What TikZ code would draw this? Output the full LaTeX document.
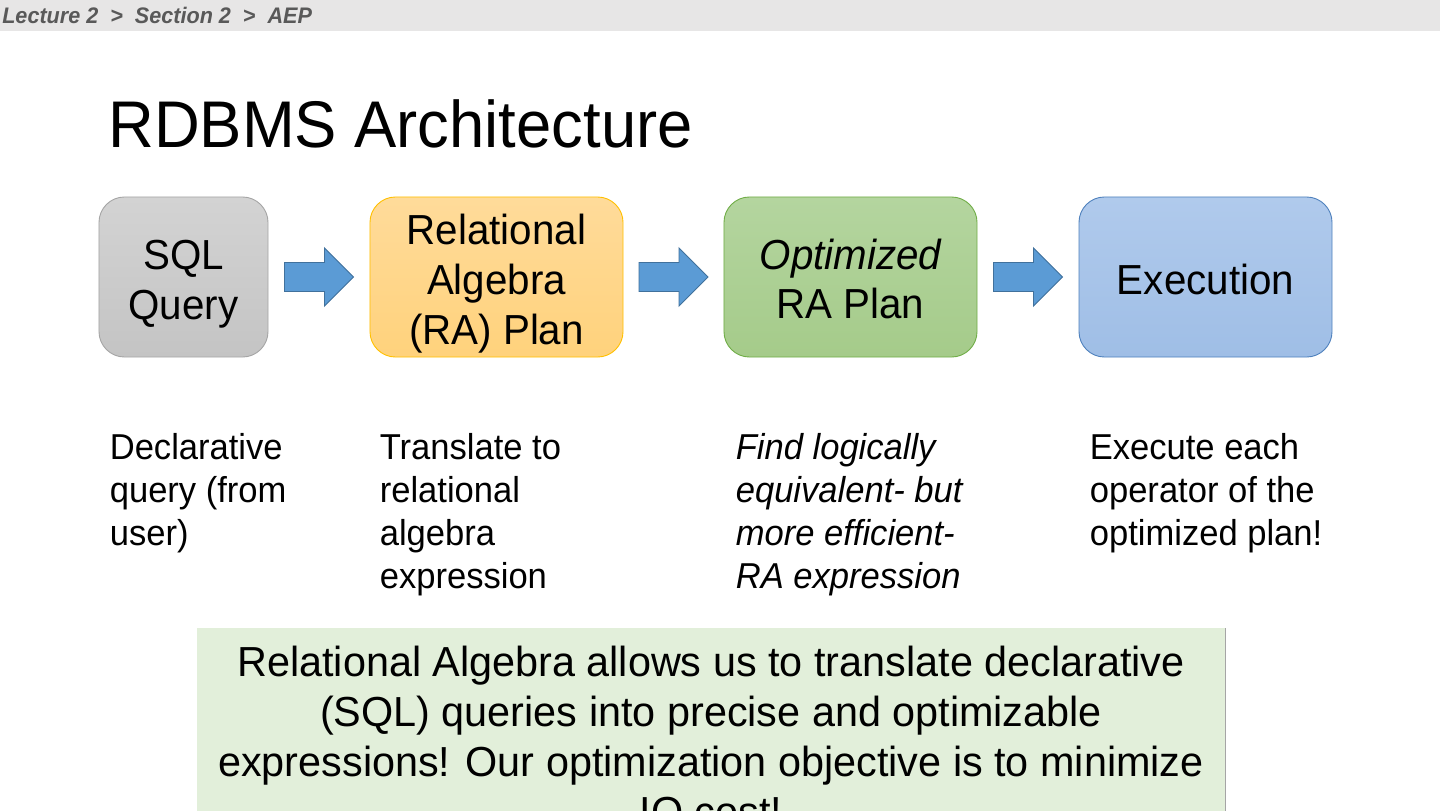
\documentclass[tikz,border=0pt]{standalone}
\usepackage{fontspec}
\setmainfont[FakeStretch=0.96]{Liberation Sans}
\newfontfamily\notefont[FakeStretch=0.985]{Liberation Sans}
\usetikzlibrary{calc}
\definecolor{crumbbar}{HTML}{E7E6E6}
\definecolor{crumbtext}{HTML}{595959}
\definecolor{sqltop}{HTML}{D3D3D3}
\definecolor{sqlbot}{HTML}{C4C4C4}
\definecolor{sqledge}{HTML}{A5A5A5}
\definecolor{ratop}{HTML}{FFDB9A}
\definecolor{rabot}{HTML}{FFD27C}
\definecolor{raedge}{HTML}{FFC000}
\definecolor{opttop}{HTML}{B4D59F}
\definecolor{optbot}{HTML}{A5CB8A}
\definecolor{optedge}{HTML}{70AD47}
\definecolor{exectop}{HTML}{B0CAEC}
\definecolor{execbot}{HTML}{9FBEE6}
\definecolor{execedge}{HTML}{4F81BD}
\definecolor{arrowblue}{HTML}{5B9BD5}
\definecolor{arrowedge}{HTML}{41719C}
\definecolor{notefill}{HTML}{E2EFDA}
\definecolor{noteedge}{HTML}{A5A5A5}

\tikzset{
  stagebox/.style={rounded corners=17pt, line width=0.6pt, minimum height=106.7pt, inner sep=0pt},
  stagetext/.style={align=center, inner sep=0pt, font=\fontsize{28}{33.3}\selectfont},
  desc/.style={anchor=base west, align=left, inner sep=0pt, font=\fontsize{24}{28.7}\selectfont},
  blockarrow/.style={fill=arrowblue, draw=arrowedge, line width=0.6pt},
}

\begin{document}
\begin{tikzpicture}[x=0.6667pt, y=-0.6667pt]
\useasboundingbox (0,0) rectangle (1440,810);
\clip (0,0) rectangle (1440,810);
\fill[white] (0,0) rectangle (1440,810);
% breadcrumb bar
\fill[crumbbar] (0,0) rectangle (1440,31);
\node[anchor=base west, inner sep=0pt, text=crumbtext,
  font=\fontsize{15}{18}\selectfont\bfseries\itshape] (crumb) at (2,24)
  {Lecture 2 \ > \ Section 2 \ > \ AEP};
% title
\node[anchor=base west, inner sep=0pt, font=\fontsize{44}{52}\selectfont] (title) at (108,147) {RDBMS Architecture};
% stages
\node[stagebox, top color=sqltop, bottom color=sqlbot, draw=sqledge, minimum width=112.7pt] (sql) at (183.5,277) {};
\node[stagebox, top color=ratop, bottom color=rabot, draw=raedge, minimum width=168.7pt] (ra) at (496.5,277) {};
\node[stagebox, top color=opttop, bottom color=optbot, draw=optedge, minimum width=168.7pt] (opt) at (850.5,277) {};
\node[stagebox, top color=exectop, bottom color=execbot, draw=execedge, minimum width=168.7pt] (exec) at (1205.5,277) {};
\node[stagetext] (sqllabel) at ($(sql.center)+(0,7)$) {SQL\\Query};
\node[stagetext] (ralabel) at ($(ra.center)+(0,7)$) {Relational\\Algebra\\(RA) Plan};
\node[stagetext] (optlabel) at ($(opt.center)+(0,2)$) {\itshape Optimized\\RA Plan};
\node[stagetext] (execlabel) at ($(exec.center)+(0,2)$) {Execution};
% block arrows between the stages
\foreach \a/\b [count=\i] in {sql/ra, ra/opt, opt/exec} {
  \coordinate (mid\i) at ($(\a.east)!0.5!(\b.west)$);
  \draw[blockarrow, shift={(mid\i)}] (-34.5,-14.5) -- (5.5,-14.5) -- (5.5,-29) -- (34.5,0)
    -- (5.5,29) -- (5.5,14.5) -- (-34.5,14.5) -- cycle;
}
% descriptions (anchored at the baseline of their last line)
\node[desc] (sqltext) at ($(sql.south west)+(11,188)$) {Declarative\\query (from\\user)};
\node[desc] (ratext) at ($(ra.south west)+(10,231)$) {Translate to\\relational\\algebra\\expression};
\node[desc, font=\fontsize{24}{28.7}\selectfont\itshape] (opttext) at ($(opt.south west)+(12,231)$) {Find logically\\equivalent- but\\more efficient-\\RA expression};
\node[desc] (exectext) at ($(exec.south west)+(11,188)$) {Execute each\\operator of the\\optimized plan!};
% note box
\fill[notefill] (197,628) rectangle (1225,830);
\draw[noteedge, line width=0.6pt] (1225,628) -- (1225,830);
\node[anchor=base, align=center, inner sep=0pt, font=\fontsize{28}{33.3}\notefont] (note) at (711,826)
  {Relational Algebra allows us to translate declarative\\(SQL) queries into precise and optimizable\\expressions! Our optimization objective is to minimize\\IO cost!};
\end{tikzpicture}
\end{document}
